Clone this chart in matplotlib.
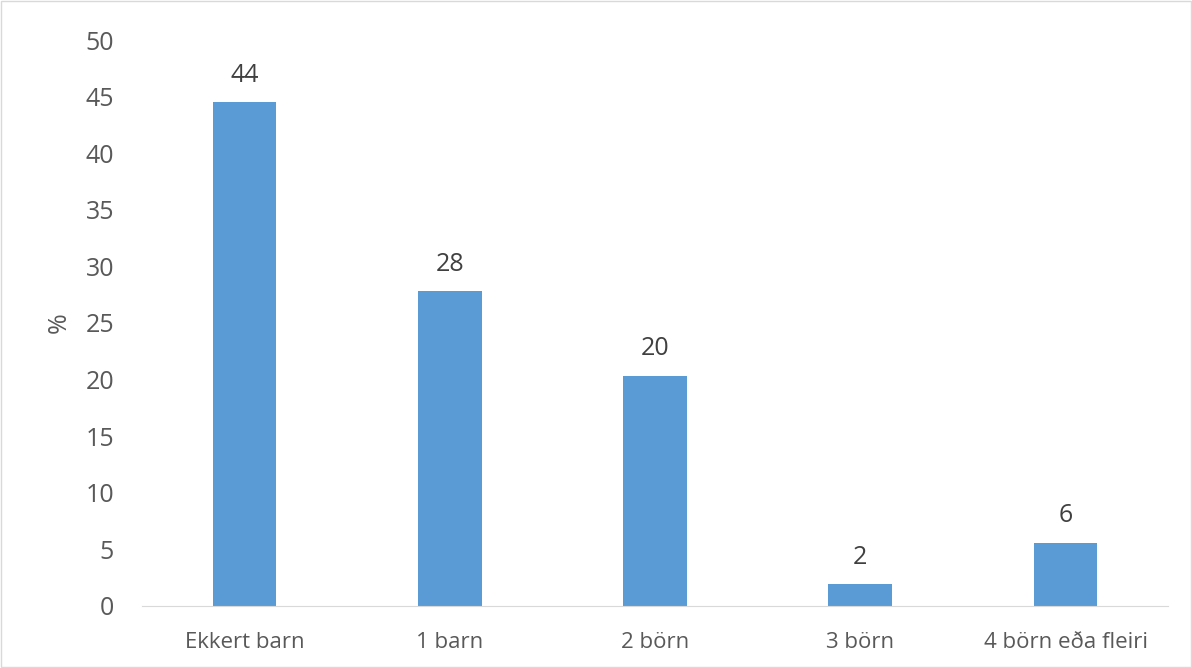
import matplotlib.pyplot as plt
import numpy as np

# data
categories = ['Ekkert barn', '1 barn', '2 börn', '3 börn', '4 börn eða fleiri']
values = [44.5, 27.8, 20.3, 1.9, 5.6]
labels = ['44', '28', '20', '2', '6']

plt.rcParams['font.family'] = ['Open Sans', 'DejaVu Sans']

fig = plt.figure(figsize=(11.92, 6.68), dpi=100)
ax = fig.add_axes([0.119, 0.093, 0.861, 0.847])

x = np.arange(len(categories))
bars = ax.bar(x, values, width=0.31, color='#5B9BD5')

for b, lab in zip(bars, labels):
    ax.text(b.get_x() + b.get_width() / 2, b.get_height() + 1.3, lab,
            ha='center', va='bottom', fontsize=18, color='#404040')

ax.set_xlim(-0.5, len(categories) - 0.5)
ax.set_ylim(0, 50)
ax.set_yticks(range(0, 51, 5))
ax.set_xticks(x)
ax.set_xticklabels(categories)
ax.tick_params(axis='y', length=0, labelsize=18, colors='#595959', pad=20)
ax.tick_params(axis='x', length=0, labelsize=16, colors='#595959', pad=19)
ax.set_ylabel('%', fontsize=18, color='#595959', labelpad=10)

for s in ['top', 'right', 'left']:
    ax.spines[s].set_visible(False)
ax.spines['bottom'].set_color('#D9D9D9')

# light frame around the whole chart
fig.patches.append(plt.Rectangle((0.001, 0.001), 0.998, 0.997, transform=fig.transFigure,
                                 fill=False, edgecolor='#D9D9D9', linewidth=1))

fig.savefig('out.png', dpi=100)
